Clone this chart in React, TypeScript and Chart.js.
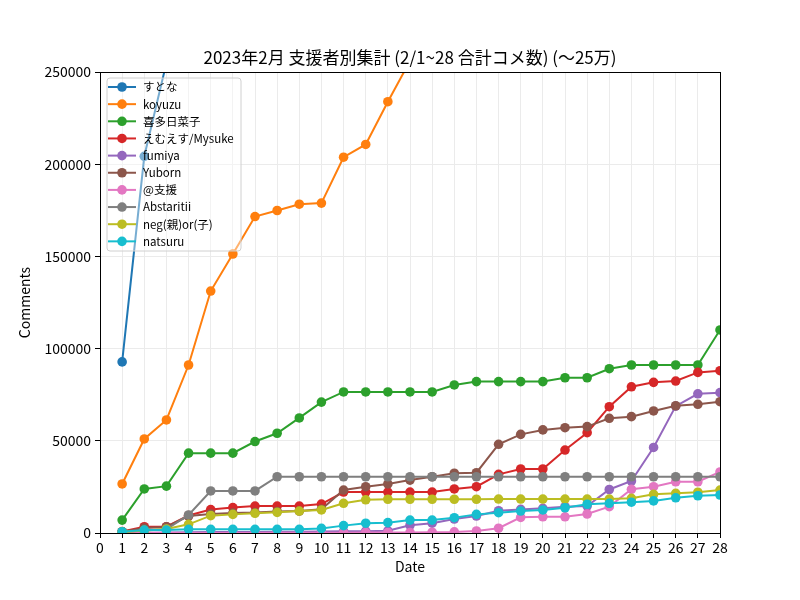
import React, { useEffect, useRef } from "react";
import { Chart, registerables } from "chart.js";

Chart.register(...registerables);

const days = [1, 2, 3, 4, 5, 6, 7, 8, 9, 10, 11, 12, 13, 14, 15, 16, 17, 18, 19, 20, 21, 22, 23, 24, 25, 26, 27, 28];

const seriesNames = ["すとな", "koyuzu", "喜多日菜子", "えむえす/Mysuke", "fumiya", "Yuborn", "@支援", "Abstaritii", "neg(親)or(子)", "natsuru"];

const seriesColors = ["#1f77b4", "#ff7f0e", "#2ca02c", "#d62728", "#9467bd", "#8c564b", "#e377c2", "#7f7f7f", "#bcbd22", "#17becf"];

const sutona = [92800, 204300, 255000, null, null, null, null, null, null, null, null, null, null, null, null, null, null, null, null, null, null, null, null, null, null, null, null, null];
const koyuzu = [26600, 51000, 61300, 91100, 131200, 151300, 171600, 174900, 178300, 178900, 203800, 210700, 233900, 256000, null, null, null, null, null, null, null, null, null, null, null, null, null, null];
const kita = [7000, 23900, 25400, 43300, 43300, 43300, 49600, 54100, 62400, 71000, 76500, 76500, 76500, 76500, 76500, 80300, 82100, 82100, 82100, 82100, 84200, 84200, 89100, 91100, 91100, 91100, 91100, 110100];
const mysuke = [800, 3400, 3400, 9500, 12700, 13800, 14600, 14600, 14600, 15700, 22200, 22200, 22200, 22200, 22200, 23900, 25100, 31800, 34700, 34700, 45000, 54400, 68500, 79300, 81700, 82400, 87100, 88000];
const fumiya = [100, 200, 300, 400, 500, 500, 600, 700, 700, 800, 900, 1000, 1200, 4200, 5300, 7600, 9200, 12100, 12800, 13400, 14300, 14600, 23600, 28200, 46400, 68800, 75500, 76100];
const yuborn = [700, 2700, 3300, 9200, 10300, 10800, 11100, 11700, 11900, 12900, 23300, 25100, 26600, 28700, 30500, 32400, 32700, 48100, 53500, 55900, 57100, 57700, 62200, 63100, 66200, 69000, 69800, 71200];
const shien = [0, 0, 0, 0, 0, 0, 0, 100, 100, 200, 200, 300, 300, 300, 400, 600, 1100, 2600, 8500, 8800, 8800, 10300, 14300, 23700, 25100, 27800, 27800, 33100];
const abstaritii = [500, 1400, 2000, 9800, 22800, 22800, 22800, 30500, 30500, 30500, 30500, 30500, 30500, 30500, 30500, 30500, 30500, 30500, 30500, 30500, 30500, 30500, 30500, 30500, 30500, 30500, 30500, 30500];
const neg = [500, 1400, 2200, 4700, 9400, 10100, 10700, 11200, 11900, 12500, 16100, 18000, 18300, 18300, 18300, 18300, 18300, 18400, 18400, 18400, 18400, 18400, 18400, 18800, 21000, 21500, 22100, 23300];
const natsuru = [700, 1600, 1600, 2000, 2000, 2000, 2000, 2000, 2000, 2500, 4000, 5300, 5600, 7000, 7000, 8300, 10100, 11000, 11900, 12500, 13700, 15600, 16100, 16700, 17400, 19100, 20200, 20600];

const seriesValues = [sutona, koyuzu, kita, mysuke, fumiya, yuborn, shien, abstaritii, neg, natsuru];

const xTicksMax = 28;
const yTicksMax = 250000;
const yTickStep = 50000;

const titleText = "2023年2月 支援者別集計 (2/1~28 合計コメ数) (〜25万)";
const xTitle = "Date";
const yTitle = "Comments";

const FONT = "'Noto Sans CJK JP', 'Noto Sans', sans-serif";

const decorPlugin = {
  id: "decor",
  beforeDraw(chart: any) {
    const ctx = chart.ctx;
    ctx.save();
    ctx.fillStyle = "#ffffff";
    ctx.fillRect(0, 0, chart.width, chart.height);
    ctx.restore();
  },
  afterDatasetsDraw(chart: any) {
    const ctx = chart.ctx;
    const a = chart.chartArea;
    ctx.save();
    // frame
    ctx.strokeStyle = "#000";
    ctx.lineWidth = 1;
    ctx.strokeRect(Math.round(a.left) + 0.5, Math.round(a.top) + 0.5, Math.round(a.right - a.left), Math.round(a.bottom - a.top));

    // legend
    const lx = 107, ly = 78, lw = 134, lh = 173;
    ctx.beginPath();
    const r = 3;
    ctx.moveTo(lx + r, ly);
    ctx.lineTo(lx + lw - r, ly);
    ctx.quadraticCurveTo(lx + lw, ly, lx + lw, ly + r);
    ctx.lineTo(lx + lw, ly + lh - r);
    ctx.quadraticCurveTo(lx + lw, ly + lh, lx + lw - r, ly + lh);
    ctx.lineTo(lx + r, ly + lh);
    ctx.quadraticCurveTo(lx, ly + lh, lx, ly + lh - r);
    ctx.lineTo(lx, ly + r);
    ctx.quadraticCurveTo(lx, ly, lx + r, ly);
    ctx.closePath();
    ctx.fillStyle = "rgba(255,255,255,0.4)";
    ctx.fill();
    ctx.strokeStyle = "#d0d0d0";
    ctx.lineWidth = 1;
    ctx.stroke();

    ctx.font = `11.5px ${FONT}`;
    ctx.textBaseline = "middle";
    ctx.textAlign = "left";
    seriesNames.forEach((name, i) => {
      const y = 87 + i * 17.15;
      ctx.strokeStyle = seriesColors[i];
      ctx.lineWidth = 2;
      ctx.beginPath();
      ctx.moveTo(108, y);
      ctx.lineTo(136, y);
      ctx.stroke();
      ctx.fillStyle = seriesColors[i];
      ctx.beginPath();
      ctx.arc(122, y, 4.8, 0, Math.PI * 2);
      ctx.fill();
      ctx.fillStyle = "#000";
      ctx.fillText(name, 143, y);
    });

    // titles
    ctx.fillStyle = "#000";
    ctx.textAlign = "center";
    ctx.textBaseline = "middle";
    ctx.font = `17px ${FONT}`;
    ctx.fillText(titleText, (a.left + a.right) / 2, 58);
    ctx.font = `14px ${FONT}`;
    ctx.fillText(xTitle, (a.left + a.right) / 2, 567);
    ctx.translate(25, (a.top + a.bottom) / 2);
    ctx.rotate(-Math.PI / 2);
    ctx.fillText(yTitle, 0, 0);
    ctx.restore();
  },
};

export default function App() {
  const ref = useRef<HTMLCanvasElement | null>(null);

  useEffect(() => {
    if (!ref.current) return;
    const datasets = seriesNames.map((name, i) => ({
      label: name,
      data: days.map((d, j) => ({ x: d, y: seriesValues[i][j] })),
      borderColor: seriesColors[i],
      backgroundColor: seriesColors[i],
      pointBackgroundColor: seriesColors[i],
      pointBorderWidth: 0,
      pointRadius: 4.8,
      borderWidth: 2,
      tension: 0,
      clip: 0,
      order: seriesNames.length - 1 - i,
      spanGaps: false,
    }));
    const chart = new Chart(ref.current, {
      type: "line",
      data: { datasets },
      plugins: [decorPlugin],
      options: {
        animation: false,
        responsive: false,
        devicePixelRatio: 1,
        layout: { padding: { left: 0, right: 80, top: 72, bottom: 0 } },
        plugins: {
          legend: { display: false },
          title: { display: false },
          tooltip: { enabled: false },
        },
        scales: {
          x: {
            type: "linear",
            min: 0,
            max: xTicksMax,
            ticks: {
              stepSize: 1,
              color: "#000",
              font: { size: 14, family: FONT },
              padding: 1,
              maxRotation: 0,
              autoSkip: false,
              callback: (v: any) => String(v),
            },
            grid: { color: "#ebebeb", lineWidth: 1, tickColor: "#000", tickLength: 5 },
            border: { color: "#000", width: 1 },
            afterFit: (s: any) => { s.height = 67; },
          },
          y: {
            min: 0,
            max: yTicksMax,
            ticks: {
              stepSize: yTickStep,
              color: "#000",
              font: { size: 14, family: FONT },
              padding: 4,
              callback: (v: any) => String(v),
            },
            grid: { color: "#ebebeb", lineWidth: 1, tickColor: "#000", tickLength: 5 },
            border: { color: "#000", width: 1 },
            afterFit: (s: any) => { s.width = 100; },
          },
        },
      },
    });
    return () => chart.destroy();
  }, []);

  return (
    <div style={{ position: "absolute", left: 0, top: 0, width: 800, height: 600, background: "#fff" }}>
      <canvas ref={ref} width={800} height={600} style={{ width: 800, height: 600 }} />
    </div>
  );
}
